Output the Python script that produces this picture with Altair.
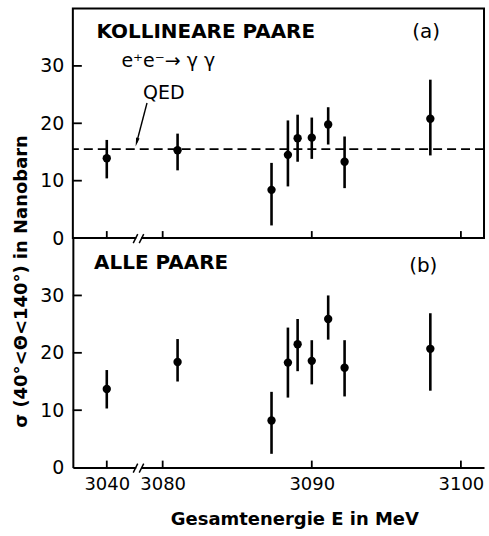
import altair as alt
import pandas as pd

# Centre-of-mass energies of the scan points (MeV)
energy = [3040.0, 3081.0, 3087.3, 3088.4, 3089.05, 3090.0, 3091.1, 3092.2, 3097.95]

# (a) collinear pairs, e+e- -> gamma gamma: cross section and error-bar ends (nb)
sigma_koll = [13.9, 15.3, 8.4, 14.5, 17.4, 17.5, 19.8, 13.3, 20.8]
low_koll = [10.4, 11.8, 2.2, 9.0, 13.3, 13.8, 16.3, 8.7, 14.4]
high_koll = [17.1, 18.2, 13.1, 20.5, 21.5, 21.0, 22.8, 17.7, 27.6]

# (b) all pairs
sigma_alle = [13.7, 18.4, 8.2, 18.3, 21.5, 18.6, 25.9, 17.4, 20.7]
low_alle = [10.3, 15.0, 2.4, 12.2, 16.8, 14.5, 22.3, 12.4, 13.4]
high_alle = [17.0, 22.4, 13.2, 24.4, 25.9, 22.2, 30.0, 22.2, 26.9]

qed_sigma = 15.5
x_ticks = [3040, 3080, 3090, 3100]
y_ticks = [0, 10, 20, 30]

FONT = "DejaVu Sans"
W, H = 412, 230

# Broken energy axis: a short stretch around 3040 MeV, then 3080-3101 MeV
X_SCALE = alt.Scale(domain=[3037.7, 3040, 3080, 3101.55], range=[0, 34, 90, W], nice=False)
Y_SCALE = alt.Scale(domain=[0, 40], nice=False, zero=False)

ONE = alt.Data(values=[{}])


def y_axis(show_domain):
    return alt.Axis(values=y_ticks, ticks=False, grid=False, title=None,
                    domain=show_domain, domainColor="black", domainWidth=2,
                    labelFont=FONT, labelFontSize=19, labelColor="black",
                    labelPadding=9)


def x_axis(bottom):
    if bottom:
        return alt.Axis(values=x_ticks, format="d", ticks=False, grid=False,
                        title="Gesamtenergie E in MeV", titleFont=FONT,
                        titleFontSize=18, titleFontWeight="bold", titleColor="black",
                        titleX=222, titlePadding=17,
                        domain=True, domainColor="black", domainWidth=2,
                        labelFont=FONT, labelFontSize=18, labelColor="black",
                        labelPadding=8)
    return alt.Axis(values=x_ticks, ticks=False, labels=False, grid=False,
                    title=None, domain=False)


def text(label, x, y, size, weight="normal", align="left"):
    return alt.Chart(ONE).mark_text(
        text=label, font=FONT, fontSize=size, fontWeight=weight,
        align=align, baseline="middle", color="black"
    ).encode(x=alt.value(x), y=alt.value(y))


def panel(sigma, low, high, bottom):
    df = pd.DataFrame({"E": energy, "sigma": sigma, "lo": low, "hi": high})
    X = alt.X("E:Q", scale=X_SCALE, axis=x_axis(bottom))
    Y = alt.Y("sigma:Q", scale=Y_SCALE, axis=y_axis(bottom))

    bars = alt.Chart(df).mark_rule(color="black", strokeWidth=2.6).encode(
        x=X, y=alt.Y("lo:Q", scale=Y_SCALE, axis=y_axis(bottom)), y2="hi:Q")
    dots = alt.Chart(df).mark_circle(color="black", size=70, opacity=1).encode(x=X, y=Y)

    # inward tick marks on both axes
    xt = alt.Chart(pd.DataFrame({"E": x_ticks})).mark_rule(
        color="black", strokeWidth=1.8).encode(x=X, y=alt.value(H), y2=alt.value(H - 7))
    yt = alt.Chart(pd.DataFrame({"sigma": y_ticks[1:]})).mark_rule(
        color="black", strokeWidth=1.8).encode(y=Y, x=alt.value(0), x2=alt.value(9))

    # axis break "//" between 3040 and 3080 MeV
    gap = alt.Chart(ONE).mark_rule(color="white", strokeWidth=5).encode(
        x=alt.value(63.5), x2=alt.value(68.5), y=alt.value(H), y2=alt.value(H))
    cut1 = alt.Chart(ONE).mark_rule(color="black", strokeWidth=1.5).encode(
        x=alt.value(60.5), x2=alt.value(65), y=alt.value(H + 5), y2=alt.value(H - 4))
    cut2 = alt.Chart(ONE).mark_rule(color="black", strokeWidth=1.5).encode(
        x=alt.value(66.5), x2=alt.value(71), y=alt.value(H + 5), y2=alt.value(H - 4))

    return [bars, dots, xt, yt, gap, cut1, cut2], X, Y


# ---- (a) collinear pairs ----
layers_a, Xa, Ya = panel(sigma_koll, low_koll, high_koll, bottom=False)
qed = alt.Chart(pd.DataFrame({"sigma": [qed_sigma]})).mark_rule(
    color="black", strokeWidth=1.8, strokeDash=[9, 5]).encode(y=Ya)
arrow_line = alt.Chart(ONE).mark_rule(color="black", strokeWidth=1.4).encode(
    x=alt.value(74.3), y=alt.value(94.7), x2=alt.value(64.0), y2=alt.value(134.0))
arrow_head = alt.Chart(ONE).mark_point(
    shape="M0,1L-0.4,-1L0.4,-1Z", filled=True, color="black", size=80,
    angle=14.6, opacity=1).encode(x=alt.value(64.0), y=alt.value(134.0))

top = alt.layer(
    qed, *layers_a, arrow_line, arrow_head,
    text("KOLLINEARE PAARE", 23.7, 23.7, 20, "bold"),
    text("(a)", 340, 23.7, 20),
    text("e⁺e⁻→ γ γ", 48.7, 52.7, 19),
    text("QED", 70.3, 84.7, 19),
).properties(width=W, height=H, view=alt.ViewBackground(stroke="black", strokeWidth=2))

# ---- (b) all pairs ----
layers_b, Xb, Yb = panel(sigma_alle, low_alle, high_alle, bottom=True)
ytitle = alt.Chart(ONE).mark_text(
    text="σ (40°<Θ<140°) in Nanobarn", font=FONT, fontSize=18, fontWeight="bold",
    angle=270, align="center", baseline="middle", color="black"
).encode(x=alt.value(-51), y=alt.value(43.5))

bottom = alt.layer(
    *layers_b, ytitle,
    text("ALLE PAARE", 21.3, 25.5, 20, "bold"),
    text("(b)", 337, 28, 20),
).properties(width=W, height=H, view=alt.ViewBackground(stroke="transparent"))

chart = alt.vconcat(top, bottom, spacing=0, bounds="flush").properties(
    padding={"left": 12, "right": 3, "top": 7, "bottom": 5},
    background="white",
)

chart.save("out.html", embed_options={"renderer": "svg", "actions": False})
